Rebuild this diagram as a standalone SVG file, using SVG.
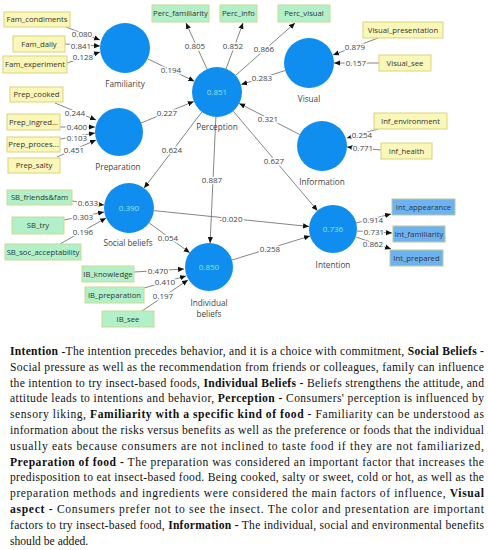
<svg xmlns="http://www.w3.org/2000/svg" width="488" height="550" viewBox="0 0 488 550">
<defs>
<marker id="ah" markerUnits="userSpaceOnUse" markerWidth="6" markerHeight="6" refX="6" refY="3" orient="auto">
<path d="M0,0.4 L6,3 L0,5.6 z" fill="#111"/>
</marker>
<style>
.c{fill:#0f8ef0}
.v{font-family:"Open Sans",sans-serif;font-size:8px;fill:#8fe3e6;text-anchor:middle}
.n{font-family:"Open Sans",sans-serif;font-size:8.2px;fill:#444;text-anchor:middle}
.y rect{fill:#faf7b9;stroke:#d9d37f;stroke-width:1}
.g rect{fill:#b2f0c9;stroke:#c9dc8e;stroke-width:1}
.b rect{fill:#6db3f2;stroke:#bcc995;stroke-width:1}
.t{font-family:"Open Sans",sans-serif;font-size:7.7px;fill:#333;text-anchor:middle}
#conn line{stroke:#666;stroke-width:0.8;fill:none;marker-end:url(#ah)}
.l{font-family:"Open Sans",sans-serif;font-size:8px;fill:#444;text-anchor:middle;stroke:#fff;stroke-width:3;paint-order:stroke;stroke-linejoin:round}
.p{font-family:"Liberation Serif",serif;font-size:11.6px;fill:#111}
.p tspan.bd{font-weight:bold}
</style>
</defs>
<rect width="488" height="550" fill="#fff"/>

<g id="conn">
<line x1="66" y1="27" x2="100" y2="40"/>
<line x1="65" y1="44" x2="100" y2="46"/>
<line x1="67" y1="63" x2="100" y2="52"/>
<line x1="55" y1="103" x2="96" y2="120"/>
<line x1="60" y1="127" x2="95" y2="127"/>
<line x1="60" y1="139" x2="95" y2="133"/>
<line x1="57" y1="157" x2="96" y2="140"/>
<line x1="378" y1="38" x2="333" y2="55"/>
<line x1="379" y1="63" x2="334" y2="63"/>
<line x1="378" y1="129" x2="347" y2="138"/>
<line x1="381" y1="150" x2="347" y2="147"/>
<line x1="72" y1="201" x2="104" y2="205"/>
<line x1="64" y1="220" x2="104" y2="212"/>
<line x1="60" y1="244" x2="106" y2="218"/>
<line x1="134" y1="272" x2="184" y2="269"/>
<line x1="144" y1="288" x2="186" y2="276"/>
<line x1="142" y1="311" x2="188" y2="280"/>
<line x1="207" y1="69" x2="186" y2="23"/>
<line x1="226" y1="69" x2="243" y2="23"/>
<line x1="236" y1="75" x2="295" y2="23"/>
<line x1="356" y1="223" x2="391" y2="214"/>
<line x1="357" y1="231" x2="392" y2="233"/>
<line x1="356" y1="237" x2="391" y2="249"/>
<line x1="147.5" y1="58.8" x2="194.4" y2="81.2"/>
<line x1="141.2" y1="122.9" x2="193.8" y2="101.5"/>
<line x1="285.2" y1="70.5" x2="241.2" y2="84.5"/>
<line x1="299.8" y1="134.6" x2="239.2" y2="103.4"/>
<line x1="201.9" y1="111.9" x2="144.1" y2="188.1"/>
<line x1="215.9" y1="117" x2="210.1" y2="243"/>
<line x1="233.2" y1="111.1" x2="317.5" y2="210.7"/>
<line x1="153.9" y1="210.6" x2="309.1" y2="226.5"/>
<line x1="149.1" y1="222.8" x2="189.7" y2="252.7"/>
<line x1="232" y1="260" x2="310" y2="236"/>
</g>

<g id="pathlabels">
<text class="l" x="82" y="37">0.080</text>
<text class="l" x="81" y="49">0.841</text>
<text class="l" x="83" y="60">0.128</text>
<text class="l" x="75" y="116">0.244</text>
<text class="l" x="77" y="130">0.400</text>
<text class="l" x="77" y="141">0.103</text>
<text class="l" x="74" y="153">0.451</text>
<text class="l" x="355" y="50">0.879</text>
<text class="l" x="356" y="66">0.157</text>
<text class="l" x="362" y="138">0.254</text>
<text class="l" x="363" y="151">0.771</text>
<text class="l" x="88" y="206">0.633</text>
<text class="l" x="83" y="220">0.303</text>
<text class="l" x="83" y="235">0.196</text>
<text class="l" x="158" y="274">0.470</text>
<text class="l" x="165" y="285">0.410</text>
<text class="l" x="163" y="299">0.197</text>
<text class="l" x="195" y="49">0.805</text>
<text class="l" x="233" y="49">0.852</text>
<text class="l" x="264" y="52">0.866</text>
<text class="l" x="373" y="223">0.914</text>
<text class="l" x="374" y="235">0.731</text>
<text class="l" x="373" y="247">0.862</text>
<text class="l" x="171" y="73">0.194</text>
<text class="l" x="167" y="116">0.227</text>
<text class="l" x="262" y="81">0.283</text>
<text class="l" x="268" y="122">0.321</text>
<text class="l" x="172" y="153">0.624</text>
<text class="l" x="212" y="183">0.887</text>
<text class="l" x="274" y="164">0.627</text>
<text class="l" x="231" y="222">-0.020</text>
<text class="l" x="168" y="241">0.054</text>
<text class="l" x="270" y="252">0.258</text>
</g>

<g id="familiarity"><circle class="c" cx="125" cy="48" r="25"/><text class="n" x="125" y="87">Familiarity</text></g>
<g id="preparation"><circle class="c" cx="119" cy="132" r="24"/><text class="n" x="118" y="170">Preparation</text></g>
<g id="perception"><circle class="c" cx="217" cy="92" r="25"/><text class="v" x="217" y="95">0.851</text><text class="n" x="217" y="130">Perception</text></g>
<g id="visual"><circle class="c" cx="309" cy="63" r="25"/><text class="n" x="309" y="102">Visual</text></g>
<g id="information"><circle class="c" cx="322" cy="146" r="25"/><text class="n" x="322" y="185">Information</text></g>
<g id="social-beliefs"><circle class="c" cx="129" cy="208" r="25"/><text class="v" x="129" y="211">0.390</text><text class="n" x="128" y="246">Social beliefs</text></g>
<g id="individual-beliefs"><circle class="c" cx="209" cy="267" r="24"/><text class="v" x="209" y="270">0.850</text><text class="n" x="209" y="306">Individual</text><text class="n" x="209" y="317">beliefs</text></g>
<g id="intention"><circle class="c" cx="333" cy="229" r="24"/><text class="v" x="333" y="232">0.736</text><text class="n" x="333" y="268">Intention</text></g>

<g id="fam-condiments" class="y"><rect x="4" y="12" width="66" height="15"/><text class="t" x="37" y="22.3">Fam_condiments</text></g>
<g id="fam-daily" class="y"><rect x="13" y="36" width="52" height="16"/><text class="t" x="39" y="46.8">Fam_daily</text></g>
<g id="fam-experiment" class="y"><rect x="3" y="56" width="64" height="17"/><text class="t" x="35" y="67.3">Fam_experiment</text></g>
<g id="prep-cooked" class="y"><rect x="10" y="87" width="53" height="15"/><text class="t" x="36.5" y="97.3">Prep_cooked</text></g>
<g id="prep-ingred" class="y"><rect x="7" y="114" width="53" height="16"/><text class="t" x="33.5" y="124.8">Prep_ingred...</text></g>
<g id="prep-proces" class="y"><rect x="7" y="137" width="53" height="15"/><text class="t" x="33.5" y="147.3">Prep_proces...</text></g>
<g id="prep-salty" class="y"><rect x="8" y="158" width="52" height="15"/><text class="t" x="34" y="168.3">Prep_salty</text></g>
<g id="visual-presentation" class="y"><rect x="363" y="22" width="80" height="16"/><text class="t" x="403" y="32.8">Visual_presentation</text></g>
<g id="visual-see" class="y"><rect x="379" y="55" width="52" height="16"/><text class="t" x="405" y="65.8">Visual_see</text></g>
<g id="inf-environment" class="y"><rect x="374" y="113" width="73" height="16"/><text class="t" x="410.5" y="123.8">Inf_environment</text></g>
<g id="inf-health" class="y"><rect x="381" y="143" width="51" height="16"/><text class="t" x="406.5" y="153.8">Inf_health</text></g>

<g id="perc-familiarity" class="g"><rect x="152" y="5" width="57" height="17"/><text class="t" x="180.5" y="16.3">Perc_familiarity</text></g>
<g id="perc-info" class="g"><rect x="220" y="5" width="37" height="17"/><text class="t" x="238.5" y="16.3">Perc_info</text></g>
<g id="perc-visual" class="g"><rect x="278" y="5" width="52" height="17"/><text class="t" x="304" y="16.3">Perc_visual</text></g>
<g id="sb-friends" class="g"><rect x="7" y="190" width="65" height="15"/><text class="t" x="39.5" y="200.3">SB_friends&amp;fam</text></g>
<g id="sb-try" class="g"><rect x="12" y="217" width="52" height="17"/><text class="t" x="38" y="228.3">SB_try</text></g>
<g id="sb-soc" class="g"><rect x="5" y="244" width="76" height="16"/><text class="t" x="43" y="254.8">SB_soc_acceptability</text></g>
<g id="ib-knowledge" class="g"><rect x="82" y="266" width="52" height="16"/><text class="t" x="108" y="276.8">IB_knowledge</text></g>
<g id="ib-preparation" class="g"><rect x="85" y="287" width="59" height="16"/><text class="t" x="114.5" y="297.8">IB_preparation</text></g>
<g id="ib-see" class="g"><rect x="102" y="311" width="52" height="16"/><text class="t" x="128" y="321.8">IB_see</text></g>

<g id="int-appearance" class="b"><rect x="392" y="199" width="63" height="16"/><text class="t" x="423.5" y="209.8">Int_appearance</text></g>
<g id="int-familiarity" class="b"><rect x="393" y="226" width="52" height="16"/><text class="t" x="419" y="236.8">Int_familiarity</text></g>
<g id="int-prepared" class="b"><rect x="390" y="250" width="53" height="16"/><text class="t" x="416.5" y="260.8">Int_prepared</text></g>

<g id="caption">
<text class="p" x="10" y="355" textLength="474" lengthAdjust="spacing"><tspan class="bd">Intention</tspan> -The intention precedes behavior, and it is a choice with commitment, <tspan class="bd">Social Beliefs -</tspan></text>
<text class="p" x="10" y="370.8" textLength="474" lengthAdjust="spacing">Social pressure as well as the recommendation from friends or colleagues, family can influence</text>
<text class="p" x="10" y="386.6" textLength="474" lengthAdjust="spacing">the intention to try insect-based foods, <tspan class="bd">Individual Beliefs -</tspan> Beliefs strengthens the attitude, and</text>
<text class="p" x="10" y="402.4" textLength="474" lengthAdjust="spacing">attitude leads to intentions and behavior, <tspan class="bd">Perception -</tspan> Consumers' perception is influenced by</text>
<text class="p" x="10" y="418.2" textLength="474" lengthAdjust="spacing">sensory liking, <tspan class="bd">Familiarity with a specific kind of food -</tspan> Familiarity can be understood as</text>
<text class="p" x="10" y="434" textLength="474" lengthAdjust="spacing">information about the risks versus benefits as well as the preference or foods that the individual</text>
<text class="p" x="10" y="449.8" textLength="474" lengthAdjust="spacing">usually eats because consumers are not inclined to taste food if they are not familiarized,</text>
<text class="p" x="10" y="465.6" textLength="474" lengthAdjust="spacing"><tspan class="bd">Preparation of food -</tspan> The preparation was considered an important factor that increases the</text>
<text class="p" x="10" y="481.4" textLength="474" lengthAdjust="spacing">predisposition to eat insect-based food. Being cooked, salty or sweet, cold or hot, as well as the</text>
<text class="p" x="10" y="497.2" textLength="474" lengthAdjust="spacing">preparation methods and ingredients were considered the main factors of influence, <tspan class="bd">Visual</tspan></text>
<text class="p" x="10" y="513" textLength="474" lengthAdjust="spacing"><tspan class="bd">aspect -</tspan> Consumers prefer not to see the insect. The color and presentation are important</text>
<text class="p" x="10" y="528.8" textLength="474" lengthAdjust="spacing">factors to try insect-based food, <tspan class="bd">Information -</tspan> The individual, social and environmental benefits</text>
<text class="p" x="10" y="544.6">should be added.</text>
</g>
</svg>
